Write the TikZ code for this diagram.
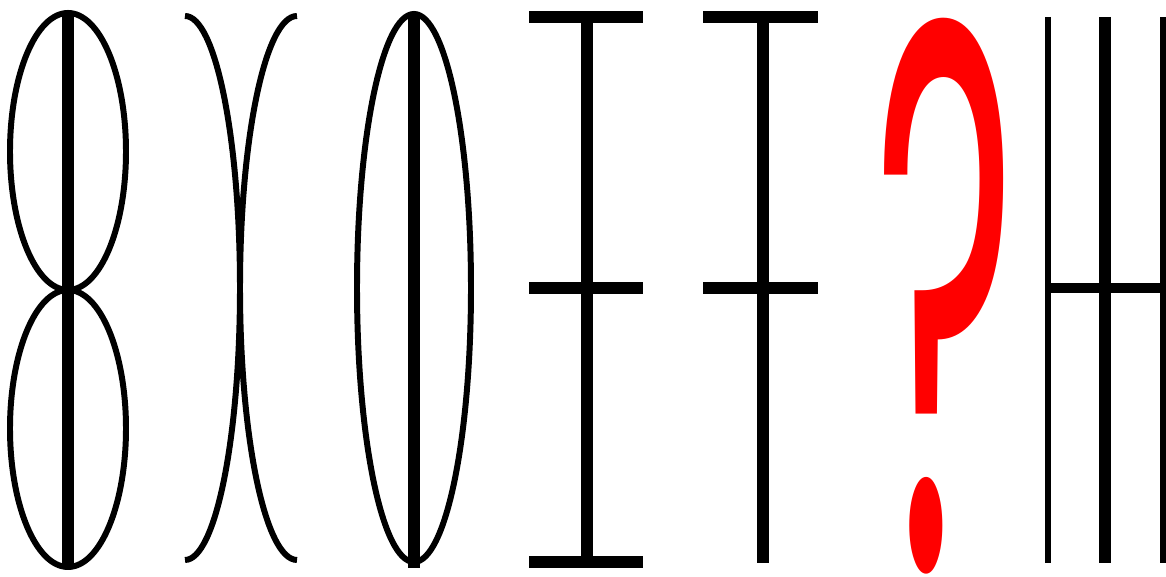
\documentclass[tikz,border=0pt]{standalone}
\usepackage{fontspec}
\newfontfamily\qfont{Poppins}

\begin{document}
\begin{tikzpicture}[x=0.01cm,y=0.01cm,
  rim/.style={line width=1.7pt},
  bar/.style={line width=3.2pt}]
  \useasboundingbox (0,0) rectangle (1166,577);

  \draw[rim] (68,425.5) ellipse [x radius=58, y radius=138.5];
  \draw[rim] (68,148.5) ellipse [x radius=58, y radius=138.5];
  \draw[bar] (68,565) -- (68,9);

  \draw[rim] (185,17) arc [start angle=-90, end angle=90, x radius=55, y radius=272];
  \draw[rim] (297,17) arc [start angle=-90, end angle=-270, x radius=57, y radius=272];

  \draw[rim] (414,289) ellipse [x radius=57, y radius=274];
  \draw[bar] (414,565) -- (414,9);

  \draw[bar] (529,560) -- (643,560);
  \draw[bar] (529,289) -- (643,289);
  \draw[bar] (529,15) -- (643,15);
  \draw[bar] (587,560) -- (587,15);

  \draw[bar] (703,560) -- (818,560);
  \draw[bar] (703,289) -- (818,289);
  \draw[bar] (763,560) -- (763,14);

  \node[red, inner sep=0pt, anchor=south] (qmark) at (946,2)
    {\resizebox{1.42cm}{5.5cm}{\qfont ?}};

  \draw[rim] (1048,560) -- (1048,14);
  \draw[bar] (1105,560) -- (1105,14);
  \draw[bar] (1166,560) -- (1166,14);
  \draw[line width=2.8pt] (1048,289) -- (1166,289);
\end{tikzpicture}
\end{document}
